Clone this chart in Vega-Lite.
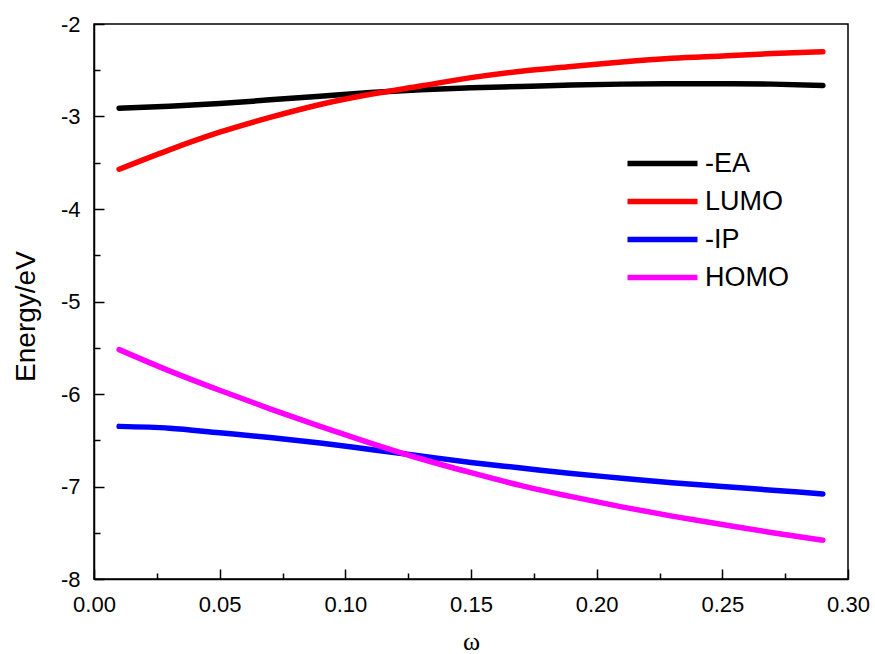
{
  "$schema": "https://vega.github.io/schema/vega-lite/v6.json",
  "width": 754,
  "height": 555,
  "autosize": {"type": "none"},
  "padding": {"left": 94, "top": 24, "right": 27, "bottom": 75},
  "background": "white",
  "config": {
    "view": {"stroke": "black", "strokeWidth": 1.5},
    "font": "Liberation Sans",
    "axis": {"grid": false, "domainColor": "black", "domainWidth": 1.5, "tickColor": "black", "tickWidth": 1.5, "labelColor": "black", "titleColor": "black", "labelFont": "Liberation Sans", "labelFontSize": 22, "titleFontWeight": "normal"}
  },
  "data": {"values": [
    {"w": 0.01, "E": -2.91, "s": "-EA"}, {"w": 0.03, "E": -2.89, "s": "-EA"}, {"w": 0.05, "E": -2.86, "s": "-EA"}, {"w": 0.07, "E": -2.82, "s": "-EA"}, {"w": 0.09, "E": -2.78, "s": "-EA"}, {"w": 0.11, "E": -2.74, "s": "-EA"}, {"w": 0.13, "E": -2.71, "s": "-EA"}, {"w": 0.15, "E": -2.69, "s": "-EA"}, {"w": 0.17, "E": -2.675, "s": "-EA"}, {"w": 0.19, "E": -2.66, "s": "-EA"}, {"w": 0.21, "E": -2.65, "s": "-EA"}, {"w": 0.23, "E": -2.645, "s": "-EA"}, {"w": 0.25, "E": -2.645, "s": "-EA"}, {"w": 0.27, "E": -2.65, "s": "-EA"}, {"w": 0.29, "E": -2.665, "s": "-EA"},
    {"w": 0.01, "E": -3.57, "s": "LUMO"}, {"w": 0.03, "E": -3.36, "s": "LUMO"}, {"w": 0.05, "E": -3.17, "s": "LUMO"}, {"w": 0.07, "E": -3.01, "s": "LUMO"}, {"w": 0.09, "E": -2.87, "s": "LUMO"}, {"w": 0.11, "E": -2.76, "s": "LUMO"}, {"w": 0.13, "E": -2.67, "s": "LUMO"}, {"w": 0.15, "E": -2.58, "s": "LUMO"}, {"w": 0.17, "E": -2.51, "s": "LUMO"}, {"w": 0.19, "E": -2.46, "s": "LUMO"}, {"w": 0.21, "E": -2.41, "s": "LUMO"}, {"w": 0.23, "E": -2.37, "s": "LUMO"}, {"w": 0.25, "E": -2.345, "s": "LUMO"}, {"w": 0.27, "E": -2.32, "s": "LUMO"}, {"w": 0.29, "E": -2.30, "s": "LUMO"},
    {"w": 0.01, "E": -6.35, "s": "-IP"}, {"w": 0.03, "E": -6.37, "s": "-IP"}, {"w": 0.05, "E": -6.42, "s": "-IP"}, {"w": 0.07, "E": -6.47, "s": "-IP"}, {"w": 0.09, "E": -6.53, "s": "-IP"}, {"w": 0.11, "E": -6.60, "s": "-IP"}, {"w": 0.13, "E": -6.67, "s": "-IP"}, {"w": 0.15, "E": -6.74, "s": "-IP"}, {"w": 0.17, "E": -6.80, "s": "-IP"}, {"w": 0.19, "E": -6.86, "s": "-IP"}, {"w": 0.21, "E": -6.91, "s": "-IP"}, {"w": 0.23, "E": -6.96, "s": "-IP"}, {"w": 0.25, "E": -7.00, "s": "-IP"}, {"w": 0.27, "E": -7.04, "s": "-IP"}, {"w": 0.29, "E": -7.08, "s": "-IP"},
    {"w": 0.01, "E": -5.52, "s": "HOMO"}, {"w": 0.03, "E": -5.75, "s": "HOMO"}, {"w": 0.05, "E": -5.96, "s": "HOMO"}, {"w": 0.07, "E": -6.16, "s": "HOMO"}, {"w": 0.09, "E": -6.35, "s": "HOMO"}, {"w": 0.11, "E": -6.53, "s": "HOMO"}, {"w": 0.13, "E": -6.70, "s": "HOMO"}, {"w": 0.15, "E": -6.85, "s": "HOMO"}, {"w": 0.17, "E": -6.99, "s": "HOMO"}, {"w": 0.19, "E": -7.11, "s": "HOMO"}, {"w": 0.21, "E": -7.22, "s": "HOMO"}, {"w": 0.23, "E": -7.32, "s": "HOMO"}, {"w": 0.25, "E": -7.41, "s": "HOMO"}, {"w": 0.27, "E": -7.50, "s": "HOMO"}, {"w": 0.29, "E": -7.58, "s": "HOMO"}
  ]},
  "resolve": {"axis": {"x": "independent", "y": "independent"}},
  "layer": [
    {
      "mark": {"type": "line", "strokeWidth": 5.5, "interpolate": "monotone", "strokeCap": "round"},
      "encoding": {
        "x": {"field": "w", "type": "quantitative", "scale": {"domain": [0, 0.3], "nice": false},
          "axis": {"orient": "bottom", "values": [0, 0.05, 0.1, 0.15, 0.2, 0.25, 0.3], "format": ".2f", "tickSize": -10, "labelPadding": 25, "title": "ω", "titleFont": "Liberation Serif", "titleFontSize": 26, "titlePadding": 13, "labelFlush": false}},
        "y": {"field": "E", "type": "quantitative", "scale": {"domain": [-8, -2], "nice": false, "zero": false},
          "axis": {"orient": "left", "values": [-8, -7, -6, -5, -4, -3, -2], "labelExpr": "replace(datum.label, '−', '-')", "tickSize": -10, "labelPadding": 24, "title": "Energy/eV", "titleFont": "Liberation Sans", "titleFontSize": 28, "titlePadding": 20, "titleY": 292, "labelFlush": false}},
        "color": {"field": "s", "type": "nominal", "sort": null,
          "scale": {"domain": ["-EA", "LUMO", "-IP", "HOMO"], "range": ["#000000", "#ff0000", "#0000ff", "#ff00ff"]},
          "legend": {"title": null, "orient": "none", "legendX": 548, "legendY": 119, "symbolType": "M-2,0L2,0", "symbolSize": 1225, "symbolStrokeWidth": 5.5, "labelFontSize": 27, "labelFont": "Liberation Sans", "labelColor": "black", "padding": 0, "rowPadding": 4, "labelOffset": 22}}
      }
    },
    {
      "mark": {"type": "line", "opacity": 0},
      "encoding": {
        "x": {"field": "w", "type": "quantitative", "axis": {"orient": "bottom", "values": [0.025, 0.075, 0.125, 0.175, 0.225, 0.275], "tickSize": -6, "labels": false, "domain": false, "title": null}},
        "y": {"field": "E", "type": "quantitative", "axis": {"orient": "left", "values": [-7.5, -6.5, -5.5, -4.5, -3.5, -2.5], "tickSize": -6, "labels": false, "domain": false, "title": null}},
        "detail": {"field": "s"}
      }
    }
  ]
}
